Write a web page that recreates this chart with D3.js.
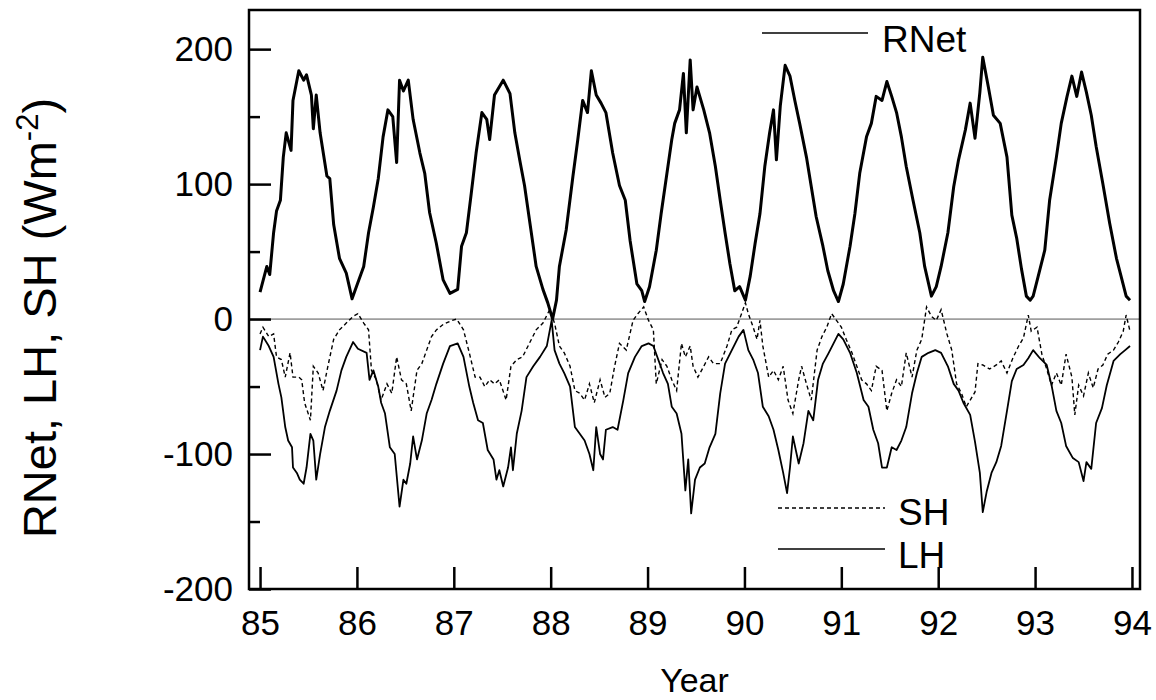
<!DOCTYPE html>
<html>
<head>
<meta charset="utf-8">
<script src="https://cdn.jsdelivr.net/npm/d3@7"></script>
<style>
  body { margin: 0; background: #fff; }
  svg { display: block; font-family: "Liberation Sans", Arial, sans-serif; }
</style>
</head>
<body>
<svg width="1156" height="700"></svg>
<script>
// values: [year, W m-2]
var rnet = [
  [85.00,20],[85.07,39],[85.10,33],[85.14,64],[85.17,80],[85.21,88],[85.24,120],[85.27,138],[85.32,125],[85.34,162],
  [85.40,184],[85.45,177],[85.48,181],[85.53,166],[85.55,141],[85.58,166],[85.62,138],[85.69,106],[85.72,104],[85.76,70],
  [85.82,45],[85.89,34],[85.95,15],[86.00,25],[86.07,39],[86.12,64],[86.17,83],[86.22,104],[86.27,135],[86.32,155],
  [86.37,150],[86.41,116],[86.44,177],[86.48,169],[86.53,177],[86.58,148],[86.65,123],[86.70,108],[86.75,79],[86.82,56],
  [86.89,29],[86.96,19],[87.04,22],[87.08,54],[87.13,64],[87.18,93],[87.23,123],[87.29,153],[87.34,148],[87.37,133],
  [87.42,166],[87.51,177],[87.58,167],[87.63,138],[87.68,118],[87.73,99],[87.78,74],[87.85,39],[87.92,22],[87.97,12],
  [88.02,0],[88.06,14],[88.09,39],[88.16,66],[88.23,106],[88.28,133],[88.33,162],[88.38,153],[88.42,184],[88.47,166],
  [88.52,160],[88.57,153],[88.64,123],[88.71,99],[88.77,88],[88.82,58],[88.89,26],[88.94,21],[88.97,13],[89.02,24],
  [89.09,51],[89.14,78],[89.20,108],[89.25,133],[89.28,145],[89.33,155],[89.37,182],[89.40,138],[89.44,192],[89.47,155],
  [89.51,172],[89.58,155],[89.64,138],[89.70,113],[89.75,88],[89.80,64],[89.85,41],[89.90,21],[89.95,24],[90.01,14],
  [90.06,32],[90.11,56],[90.16,78],[90.21,113],[90.26,138],[90.30,155],[90.33,118],[90.37,158],[90.42,188],[90.47,180],
  [90.52,162],[90.57,145],[90.64,120],[90.69,98],[90.74,76],[90.81,54],[90.86,36],[90.92,21],[90.97,13],[91.02,26],
  [91.09,54],[91.14,78],[91.19,108],[91.26,135],[91.31,145],[91.36,165],[91.42,162],[91.47,176],[91.52,165],[91.57,153],
  [91.62,135],[91.67,113],[91.74,88],[91.81,64],[91.86,39],[91.93,17],[91.98,24],[92.03,39],[92.10,64],[92.16,98],
  [92.21,118],[92.28,140],[92.33,160],[92.38,134],[92.43,168],[92.46,194],[92.52,171],[92.57,151],[92.64,145],[92.71,120],
  [92.76,77],[92.81,60],[92.86,37],[92.91,17],[92.95,14],[92.98,17],[93.03,31],[93.10,51],[93.15,88],[93.22,120],
  [93.27,145],[93.33,165],[93.38,180],[93.43,165],[93.48,183],[93.53,168],[93.58,151],[93.63,128],[93.70,100],[93.77,71],
  [93.84,45],[93.89,31],[93.94,17],[93.98,14]
];

var lh = [
  [85.00,-23],[85.03,-13],[85.09,-20],[85.14,-28],[85.19,-48],[85.22,-58],[85.26,-80],[85.29,-90],[85.33,-95],[85.34,-110],
  [85.38,-114],[85.41,-119],[85.45,-122],[85.48,-110],[85.52,-85],[85.55,-90],[85.58,-119],[85.62,-100],[85.67,-80],[85.72,-68],
  [85.79,-53],[85.84,-38],[85.89,-28],[85.96,-17],[86.01,-22],[86.10,-25],[86.13,-45],[86.17,-38],[86.22,-50],[86.25,-62],
  [86.29,-70],[86.34,-95],[86.39,-100],[86.44,-139],[86.48,-119],[86.51,-122],[86.55,-107],[86.58,-87],[86.62,-104],[86.67,-90],
  [86.72,-70],[86.77,-60],[86.82,-48],[86.89,-33],[86.96,-20],[87.04,-18],[87.10,-28],[87.16,-50],[87.20,-62],[87.25,-75],
  [87.30,-77],[87.35,-97],[87.41,-104],[87.44,-119],[87.47,-112],[87.51,-124],[87.56,-110],[87.59,-95],[87.61,-112],[87.65,-85],
  [87.70,-68],[87.75,-43],[87.82,-35],[87.89,-28],[87.96,-20],[88.01,-1],[88.04,-23],[88.09,-33],[88.14,-40],[88.20,-50],
  [88.25,-80],[88.30,-85],[88.35,-90],[88.40,-100],[88.44,-112],[88.47,-80],[88.51,-100],[88.54,-104],[88.57,-82],[88.64,-80],
  [88.69,-82],[88.75,-60],[88.80,-40],[88.87,-28],[88.94,-20],[89.01,-18],[89.06,-20],[89.11,-30],[89.16,-40],[89.21,-48],
  [89.25,-65],[89.30,-70],[89.35,-85],[89.39,-127],[89.42,-104],[89.45,-144],[89.49,-119],[89.54,-110],[89.59,-107],[89.64,-95],
  [89.70,-85],[89.75,-55],[89.80,-33],[89.87,-23],[89.94,-13],[89.99,-8],[90.04,-23],[90.09,-30],[90.14,-40],[90.19,-65],
  [90.25,-72],[90.30,-82],[90.35,-97],[90.40,-114],[90.44,-129],[90.47,-110],[90.50,-87],[90.56,-107],[90.61,-92],[90.66,-68],
  [90.71,-75],[90.76,-45],[90.81,-33],[90.87,-25],[90.92,-18],[90.97,-11],[91.02,-15],[91.09,-25],[91.16,-40],[91.23,-60],
  [91.28,-65],[91.33,-82],[91.38,-92],[91.42,-110],[91.47,-110],[91.52,-95],[91.57,-97],[91.62,-90],[91.67,-80],[91.73,-55],
  [91.78,-40],[91.83,-28],[91.90,-25],[91.97,-23],[92.03,-25],[92.10,-35],[92.16,-48],[92.21,-53],[92.26,-62],[92.33,-71],
  [92.38,-91],[92.43,-114],[92.46,-143],[92.50,-128],[92.55,-114],[92.60,-106],[92.65,-94],[92.71,-68],[92.76,-46],[92.81,-37],
  [92.88,-34],[92.93,-29],[92.98,-23],[93.05,-29],[93.12,-34],[93.17,-49],[93.22,-68],[93.27,-77],[93.32,-94],[93.39,-103],
  [93.45,-106],[93.50,-120],[93.53,-106],[93.58,-111],[93.63,-77],[93.69,-66],[93.74,-49],[93.81,-31],[93.88,-26],[93.93,-23],
  [93.98,-20]
];

var sh = [
  [85.00,-11],[85.03,-6],[85.09,-13],[85.14,-11],[85.17,-28],[85.22,-30],[85.26,-43],[85.31,-25],[85.34,-43],[85.40,-43],
  [85.43,-45],[85.46,-62],[85.52,-75],[85.55,-35],[85.60,-40],[85.65,-53],[85.70,-35],[85.76,-15],[85.82,-8],[85.89,-3],
  [85.96,2],[86.01,4],[86.07,-3],[86.12,-8],[86.15,-38],[86.20,-45],[86.25,-60],[86.31,-48],[86.36,-55],[86.41,-28],
  [86.46,-45],[86.51,-48],[86.56,-68],[86.62,-38],[86.67,-33],[86.72,-23],[86.77,-13],[86.82,-8],[86.89,-4],[86.98,-1],
  [87.03,0],[87.10,-8],[87.16,-25],[87.22,-43],[87.27,-43],[87.32,-50],[87.37,-45],[87.42,-48],[87.47,-45],[87.54,-60],
  [87.59,-35],[87.65,-30],[87.71,-28],[87.78,-18],[87.85,-8],[87.92,-3],[87.99,7],[88.04,-3],[88.09,-20],[88.14,-25],
  [88.20,-35],[88.25,-53],[88.30,-55],[88.35,-60],[88.40,-48],[88.45,-62],[88.51,-45],[88.56,-58],[88.61,-55],[88.66,-35],
  [88.71,-18],[88.78,-23],[88.85,-1],[88.90,4],[88.96,9],[89.01,-1],[89.06,-8],[89.09,-48],[89.15,-30],[89.20,-35],
  [89.25,-45],[89.30,-53],[89.35,-18],[89.39,-28],[89.44,-20],[89.47,-35],[89.52,-43],[89.58,-35],[89.63,-28],[89.68,-33],
  [89.75,-33],[89.82,-20],[89.87,-8],[89.92,-6],[89.97,4],[90.01,12],[90.04,4],[90.09,-6],[90.13,-15],[90.16,-1],
  [90.19,-20],[90.25,-43],[90.30,-38],[90.35,-45],[90.40,-35],[90.45,-60],[90.50,-70],[90.56,-45],[90.59,-35],[90.64,-48],
  [90.69,-60],[90.75,-23],[90.80,-13],[90.85,-6],[90.90,4],[90.95,-1],[91.00,-6],[91.05,-15],[91.11,-25],[91.16,-35],
  [91.21,-45],[91.26,-48],[91.31,-53],[91.36,-35],[91.42,-38],[91.47,-68],[91.52,-55],[91.57,-45],[91.62,-50],[91.67,-25],
  [91.73,-43],[91.78,-23],[91.83,-15],[91.88,9],[91.93,2],[91.98,-1],[92.03,7],[92.09,-11],[92.14,-23],[92.19,-48],
  [92.24,-55],[92.29,-65],[92.38,-54],[92.41,-33],[92.46,-34],[92.53,-37],[92.60,-34],[92.65,-31],[92.71,-40],[92.77,-29],
  [92.83,-20],[92.88,-14],[92.93,3],[92.96,-9],[93.02,-6],[93.07,-26],[93.12,-37],[93.17,-49],[93.22,-40],[93.27,-49],
  [93.32,-26],[93.38,-43],[93.41,-71],[93.45,-49],[93.50,-57],[93.55,-40],[93.60,-51],[93.65,-37],[93.70,-34],[93.75,-26],
  [93.81,-23],[93.86,-17],[93.91,-9],[93.94,3],[93.98,-9]
];

var yearTicks = [85, 86, 87, 88, 89, 90, 91, 92, 93, 94];
var yMajor = [-200, -100, 0, 100, 200];
var yMinor = [-150, -50, 50, 150];

var svg = d3.select("svg");
var plotL = 249, plotR = 1140, plotT = 10, plotB = 589;

var x = d3.scaleLinear().domain([84.886, 94.083]).range([plotL, plotR]);
var y = d3.scaleLinear().domain([-200, 229]).range([plotB, plotT]);

var line = d3.line()
    .x(function(d) { return x(d[0]); })
    .y(function(d) { return y(d[1]); });

// zero line
svg.append("line")
    .attr("x1", plotL).attr("x2", plotR)
    .attr("y1", y(0)).attr("y2", y(0))
    .attr("stroke", "#555")
    .attr("stroke-width", 1);

svg.append("path")
    .datum(sh)
    .attr("fill", "none")
    .attr("stroke", "#000")
    .attr("stroke-width", 1.4)
    .attr("stroke-dasharray", "4,3")
    .attr("d", line);

svg.append("path")
    .datum(lh)
    .attr("fill", "none")
    .attr("stroke", "#000")
    .attr("stroke-width", 1.8)
    .attr("stroke-linejoin", "round")
    .attr("d", line);

svg.append("path")
    .datum(rnet)
    .attr("fill", "none")
    .attr("stroke", "#000")
    .attr("stroke-width", 3)
    .attr("stroke-linejoin", "round")
    .attr("d", line);

// axes (ticks point inward); plain hyphen for negatives like the original
var plain = function(d) { return String(d); };

var xAxis = svg.append("g")
    .attr("transform", "translate(0," + plotB + ")")
    .call(d3.axisBottom(x).tickValues(yearTicks).tickSize(-22).tickPadding(21)
      .tickFormat(plain));

var yAxis = svg.append("g")
    .attr("transform", "translate(" + plotL + ",0)")
    .call(d3.axisLeft(y).tickValues(yMajor).tickSize(-22).tickPadding(16)
      .tickFormat(plain));

var yAxisMinor = svg.append("g")
    .attr("transform", "translate(" + plotL + ",0)")
    .call(d3.axisLeft(y).tickValues(yMinor).tickSize(-11).tickFormat(""));

[xAxis, yAxis, yAxisMinor].forEach(function(g) {
  g.select(".domain").remove();
  g.selectAll(".tick line").attr("stroke", "#000").attr("stroke-width", 2.5);
  g.selectAll("text")
      .attr("fill", "#000")
      .style("font-size", "35px")
      .style("font-family", "'Liberation Sans', Arial, sans-serif");
});

// frame
svg.append("rect")
    .attr("x", plotL).attr("y", plotT)
    .attr("width", plotR - plotL).attr("height", plotB - plotT)
    .attr("fill", "none")
    .attr("stroke", "#000")
    .attr("stroke-width", 2.5);

// axis titles
svg.append("text")
    .attr("x", (plotL + plotR) / 2)
    .attr("y", 692)
    .attr("text-anchor", "middle")
    .style("font-size", "34px")
    .text("Year");

var ylab = svg.append("text")
    .attr("transform", "translate(56,318) rotate(-90)")
    .attr("text-anchor", "middle")
    .style("font-size", "47px");
ylab.append("tspan").text("RNet, LH, SH (Wm");
ylab.append("tspan").attr("dy", -18).style("font-size", "31px").text("-2");
ylab.append("tspan").attr("dy", 18).text(")");

// legend
var legend = [
  { name: "RNet", x1: 762, x2: 868, ly: 33, tx: 882, ty: 52, dash: null, w: 1.5 },
  { name: "SH", x1: 778, x2: 885, ly: 508, tx: 898, ty: 525, dash: "4,3", w: 1.3 },
  { name: "LH", x1: 778, x2: 885, ly: 549, tx: 898, ty: 568, dash: null, w: 1.5 }
];

var lg = svg.append("g").selectAll("g")
    .data(legend)
    .enter().append("g");

lg.append("line")
    .attr("x1", function(d) { return d.x1; })
    .attr("x2", function(d) { return d.x2; })
    .attr("y1", function(d) { return d.ly; })
    .attr("y2", function(d) { return d.ly; })
    .attr("stroke", "#000")
    .attr("stroke-width", function(d) { return d.w; })
    .attr("stroke-dasharray", function(d) { return d.dash; });

lg.append("text")
    .attr("x", function(d) { return d.tx; })
    .attr("y", function(d) { return d.ty; })
    .style("font-size", "37px")
    .text(function(d) { return d.name; });
</script>
</body>
</html>
